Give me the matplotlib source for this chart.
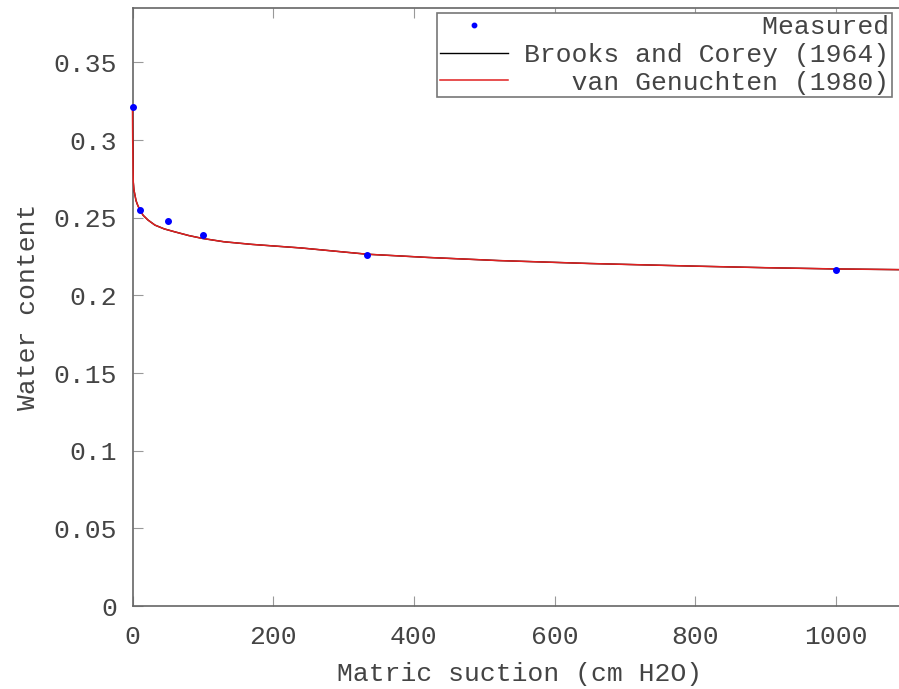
import numpy as np
import matplotlib
matplotlib.use("Agg")
import matplotlib.pyplot as plt
from matplotlib.ticker import FuncFormatter, MultipleLocator

# measured points (suction cm H2O, water content)
meas_h = [0, 10, 50, 100, 333, 1000]
meas_theta = [0.321, 0.255, 0.248, 0.239, 0.226, 0.216]

# fitted curves (they overlap almost exactly)
curve_h = [0, 0.1, 0.3, 0.7, 1.1, 2, 3.5, 5, 7.4, 10, 15, 22, 32, 45, 60,
           80, 100, 130, 170, 240, 333, 420, 520, 650, 800, 900, 1000, 1100]
bc_theta = [0.321, 0.312, 0.300, 0.285, 0.273, 0.268, 0.2645, 0.261, 0.258,
            0.2555, 0.2516, 0.2485, 0.2452, 0.2428, 0.2409, 0.2385, 0.2366,
            0.2345, 0.2328, 0.2305, 0.2265, 0.2244, 0.2224, 0.2205, 0.2188,
            0.2178, 0.2170, 0.2165]
vg_theta = [0.321, 0.312, 0.300, 0.285, 0.273, 0.268, 0.2645, 0.261, 0.258,
            0.2555, 0.2516, 0.2485, 0.2452, 0.2428, 0.2409, 0.2385, 0.2366,
            0.2345, 0.2328, 0.2305, 0.2265, 0.2244, 0.2224, 0.2205, 0.2188,
            0.2178, 0.2170, 0.2165]

labels = ["Measured", "Brooks and Corey (1964)", "van Genuchten (1980)"]

plt.rcParams['font.family'] = ['Liberation Mono', 'DejaVu Sans Mono']
plt.rcParams['font.size'] = 19
TXT = '#444444'
AX = '#666666'

fig = plt.figure(figsize=(8.99, 6.89), dpi=100)
ax = fig.add_axes([132.5/899, 83/689, (906.4-132.5)/899, 598/689])

# right-align labels in the monospace legend by padding
w = max(len(s) for s in labels)
pad = [" " * (w - len(s)) + s for s in labels]

ax.plot(meas_h, meas_theta, ls='none', marker='o', ms=4, color='#0000ff',
        label=pad[0], clip_on=False, zorder=5)
ax.plot(curve_h, bc_theta, color='black', lw=1, label=pad[1], zorder=3)
ax.plot(curve_h, vg_theta, color='#e02020', lw=1.1, label=pad[2], zorder=3,
        clip_on=False)

ax.set_xlim(0, 1100)
ax.set_ylim(0, 0.385)
ax.xaxis.set_major_locator(MultipleLocator(200))
ax.yaxis.set_major_locator(MultipleLocator(0.05))
ax.yaxis.set_major_formatter(FuncFormatter(lambda v, p: "%g" % round(v, 4)))

for s in ['left', 'bottom', 'top']:
    ax.spines[s].set_color(AX)
    ax.spines[s].set_linewidth(1.2)
ax.spines['right'].set_visible(False)
ax.tick_params(direction='in', length=7, width=0.8, color='#999999',
               labelcolor=TXT, top=True, right=False)
ax.tick_params(axis='x', pad=14)
ax.tick_params(axis='y', pad=11)

ax.set_xlabel("Matric suction (cm H2O)", color=TXT, labelpad=9)
ax.set_ylabel("Water content", color=TXT, labelpad=10)

leg = ax.legend(loc='upper right', bbox_to_anchor=(892/899, 1 - 12.5/689),
                bbox_transform=fig.transFigure, fancybox=False,
                framealpha=1, edgecolor='#777777', handlelength=2.6,
                handletextpad=0.6, labelspacing=0.14, borderpad=0.1,
                borderaxespad=0, markerscale=0.8)
leg.get_frame().set_linewidth(1.2)
for t in leg.get_texts():
    t.set_color(TXT)

fig.savefig("out.png", dpi=100, facecolor='white')
